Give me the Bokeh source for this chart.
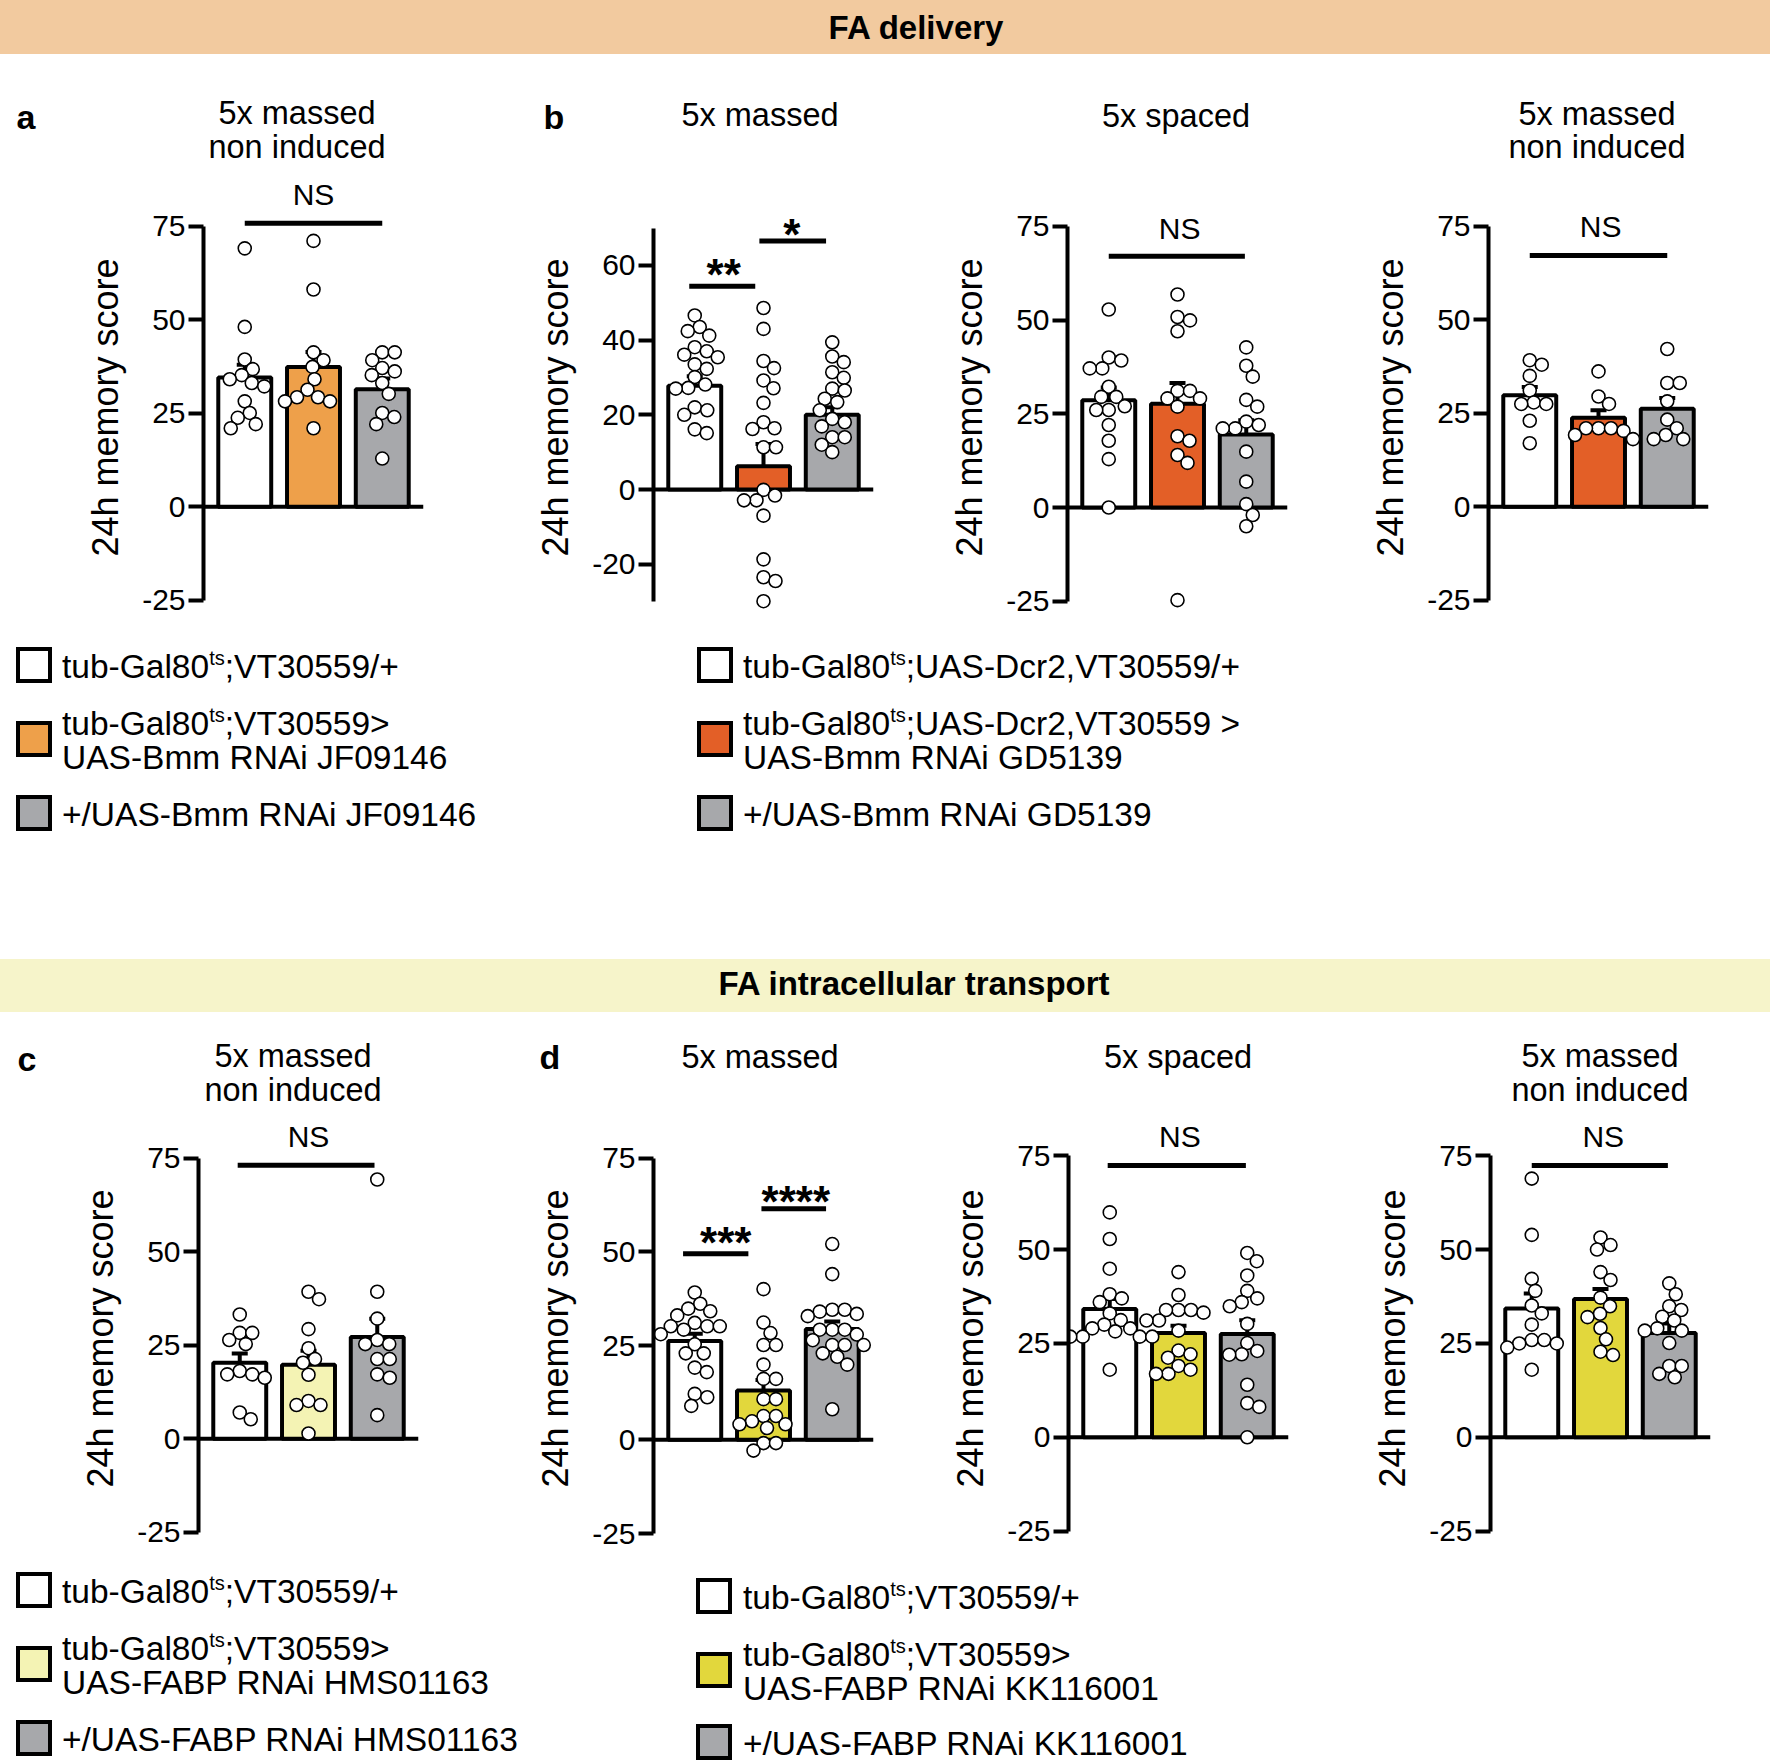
import html
from bokeh.plotting import figure
from bokeh.models import Span, FixedTicker, Div, PrintfTickFormatter
from bokeh.layouts import row, column
from bokeh.core.properties import value
from bokeh.embed import file_html
from bokeh.resources import INLINE

FONT = "Liberation Sans"

# ======================= data =======================
HEADER_1 = "FA delivery"
HEADER_2 = "FA intracellular transport"
Y_LABEL = "24h memory score"

TITLES_1 = [["5x massed", "non induced"], ["5x massed"], ["5x spaced"], ["5x massed", "non induced"]]
TITLES_2 = [["5x massed", "non induced"], ["5x massed"], ["5x spaced"], ["5x massed", "non induced"]]
LETTERS_1 = ["a", "b"]
LETTERS_2 = ["c", "d"]

TICKS_75 = [-25, 0, 25, 50, 75]
TICKS_60 = [-20, 0, 20, 40, 60]

# panel a : 5x massed non induced (Bmm JF09146)
A_MEAN = [34.6, 37.4, 31.4]
A_SEM = [3.4, 4.0, 2.9]
A_W = [69.1, 48.1, 39.4, 36.8, 35.2, 34.1, 33.1, 32.2, 28.2, 25.1, 23.8, 22.1, 21.0]
A_O = [71.1, 58.1, 41.3, 39.2, 37.4, 34.1, 31.3, 29.3, 29.3, 28.2, 28.2, 21.0]
A_G = [41.3, 41.3, 39.2, 37.1, 36.2, 35.2, 33.1, 30.2, 25.1, 24.0, 22.1, 12.9]

# panel b : 5x massed (Bmm GD5139)
B1_MEAN = [27.8, 6.2, 20.0]
B1_SEM = [2.5, 6.0, 2.0]
B1_W = [46.6, 43.5, 42.4, 41.2, 38.1, 37.0, 36.1, 35.4, 33.5, 32.3, 30.1, 28.1, 27.2, 27.0,
        22.0, 21.2, 20.0, 16.1, 15.1]
B1_O = [48.6, 43.0, 34.4, 32.5, 29.2, 27.1, 23.2, 18.0, 16.4, 16.2, 11.3, 11.3, -0.1, -1.6,
        -2.9, -2.9, -7.0, -18.7, -23.5, -24.5, -29.9]
B1_G = [39.4, 35.6, 34.1, 31.4, 29.9, 27.0, 26.5, 24.3, 23.4, 21.2, 18.9, 18.0, 16.9, 14.0,
        14.0, 12.0, 10.0]

# panel b : 5x spaced
B2_MEAN = [28.6, 27.7, 19.5]
B2_SEM = [3.4, 5.5, 3.8]
B2_W = [52.8, 40.0, 39.2, 37.1, 37.1, 32.2, 29.5, 29.5, 27.0, 26.0, 26.0, 22.0, 17.8, 12.9, 0.0]
B2_O = [56.8, 50.8, 49.9, 47.0, 31.1, 31.1, 29.1, 29.1, 26.9, 19.0, 17.8, 14.0, 11.9, -24.7]
B2_G = [42.7, 37.8, 34.9, 28.7, 26.9, 22.9, 22.0, 21.1, 21.1, 14.9, 6.9, 0.9, -2.0, -5.0]

# panel b : 5x massed non induced
B3_MEAN = [29.8, 23.8, 26.2]
B3_SEM = [2.2, 2.0, 2.9]
B3_W = [39.2, 38.0, 35.0, 31.1, 27.9, 27.5, 27.5, 23.0, 17.0]
B3_O = [36.2, 29.5, 27.5, 21.0, 21.0, 21.0, 20.3, 19.2, 18.1]
B3_G = [42.2, 33.1, 33.1, 28.2, 23.3, 21.0, 19.2, 18.1, 18.1]

# panel c : 5x massed non induced (FABP HMS01163)
C_MEAN = [20.3, 19.8, 27.2]
C_SEM = [2.5, 3.7, 4.9]
C_W = [33.2, 28.3, 28.3, 26.4, 25.3, 18.1, 17.2, 17.2, 16.3, 7.0, 5.2]
C_Y = [39.3, 37.3, 29.3, 24.2, 21.3, 20.3, 17.1, 10.1, 9.0, 9.0, 1.4]
C_G = [69.3, 39.3, 32.1, 26.4, 25.3, 25.3, 21.3, 21.3, 17.2, 16.3, 6.3]

# panel d : 5x massed (FABP KK116001)
D1_MEAN = [26.3, 13.1, 29.5]
D1_SEM = [1.9, 2.8, 2.0]
D1_W = [39.2, 36.2, 34.9, 34.2, 33.1, 31.1, 30.2, 30.2, 30.2, 29.3, 28.1, 25.4, 23.0, 23.0,
        19.2, 18.0, 12.2, 11.3, 9.0]
D1_Y = [40.1, 31.2, 28.4, 25.2, 25.2, 20.0, 16.2, 16.2, 10.8, 10.8, 6.3, 6.3, 4.9, 4.1,
        4.1, 3.1, -0.9, -0.9, -2.9]
D1_G = [52.1, 44.1, 34.6, 34.6, 34.1, 33.5, 32.9, 29.3, 29.3, 29.3, 28.0, 26.5, 25.2, 25.2,
        25.2, 23.0, 22.1, 20.0, 8.1]

# panel d : 5x spaced
D2_MEAN = [34.2, 27.8, 27.5]
D2_SEM = [2.6, 1.9, 3.7]
D2_W = [59.9, 52.8, 44.9, 38.1, 37.0, 36.0, 33.0, 31.2, 30.0, 29.0, 29.0, 28.2, 26.8, 26.8,
        26.8, 26.8, 18.0]
D2_Y = [44.0, 37.9, 33.9, 33.9, 33.9, 33.2, 31.1, 31.1, 28.4, 23.1, 22.1, 21.2, 19.0, 18.0,
        16.9, 16.9]
D2_G = [49.1, 46.9, 43.1, 39.0, 37.0, 36.0, 34.9, 30.2, 25.1, 23.0, 22.1, 22.0, 14.0, 9.1, 8.1, 0.0]

# panel d : 5x massed non induced
D3_MEAN = [34.3, 36.8, 27.8]
D3_SEM = [4.0, 2.7, 2.5]
D3_W = [68.9, 53.9, 42.2, 39.0, 35.1, 33.0, 30.0, 25.9, 25.9, 25.0, 25.0, 23.9, 18.0]
D3_Y = [53.2, 51.2, 50.0, 44.0, 41.9, 37.2, 34.9, 32.9, 32.0, 29.1, 26.1, 22.8, 21.9]
D3_G = [41.0, 38.1, 34.9, 33.9, 32.1, 31.1, 29.0, 28.4, 28.4, 25.1, 19.0, 19.0, 16.9, 16.0]

# significance marks: (x0, x1, y) lines and (x, y, label) texts, in data units
SIG_A = dict(lines=[(0.0, 2.0, 75.8)], texts=[(1.0, 83.6, "NS")])
SIG_B1 = dict(lines=[(-0.08, 0.88, 54.4), (0.94, 1.91, 66.5)], texts=[(0.42, 60.0, "**"), (1.41, 70.7, "*")])
SIG_B2 = dict(lines=[(0.0, 1.98, 67.0)], texts=[(1.03, 74.5, "NS")])
SIG_B3 = dict(lines=[(0.0, 2.0, 67.2)], texts=[(1.03, 74.9, "NS")])
SIG_C = dict(lines=[(-0.03, 1.96, 73.1)], texts=[(1.0, 80.8, "NS")])
SIG_D1 = dict(lines=[(-0.17, 0.78, 49.5), (0.97, 1.91, 61.5)], texts=[(0.45, 54.9, "***"), (1.47, 65.8, "****")])
SIG_D2 = dict(lines=[(-0.03, 1.98, 72.4)], texts=[(1.02, 80.0, "NS")])
SIG_D3 = dict(lines=[(0.0, 1.98, 72.4)], texts=[(1.04, 80.0, "NS")])

# legends
LEG_A = [["tub-Gal80^ts;VT30559/+"], ["tub-Gal80^ts;VT30559>", "UAS-Bmm RNAi JF09146"], ["+/UAS-Bmm RNAi JF09146"]]
LEG_B = [["tub-Gal80^ts;UAS-Dcr2,VT30559/+"], ["tub-Gal80^ts;UAS-Dcr2,VT30559 >", "UAS-Bmm RNAi GD5139"],
         ["+/UAS-Bmm RNAi GD5139"]]
LEG_C = [["tub-Gal80^ts;VT30559/+"], ["tub-Gal80^ts;VT30559>", "UAS-FABP RNAi HMS01163"], ["+/UAS-FABP RNAi HMS01163"]]
LEG_D = [["tub-Gal80^ts;VT30559/+"], ["tub-Gal80^ts;VT30559>", "UAS-FABP RNAi KK116001"], ["+/UAS-FABP RNAi KK116001"]]

# colours
HEAD1_BG = "#F2CA9F"
HEAD2_BG = "#F6F4CA"
COL_A = ["#FFFFFF", "#EEA04A", "#A7A8AB"]
COL_B = ["#FFFFFF", "#E35F27", "#A7A8AB"]
COL_C = ["#FFFFFF", "#F4F3B4", "#A7A8AB"]
COL_D = ["#FFFFFF", "#E2D73C", "#A7A8AB"]

# ======================= layout geometry (page pixels) =======================
PAGE_W = 1770
FRAME_W = 220
X_RANGE = (-0.6, 2.6)
BAR_W = 0.77
CAP_HALF_PX = 8
DOT = 13
COLS = [0, 480, 920, 1340, 1770]
ROW1 = (167, 642)
ROW2 = (1112, 1560)
FRAME1 = (176, 638)
FRAME2 = (1122, 1554)
TITLE_PX = 32.5
TITLE_PITCH = 33.5
LEG_PX = 33.5
LEG_LH = 34

GEO_1 = [
    dict(ax=203, y0=506.3, ppu=3.74, bounds=(-25, 75), ticks=TICKS_75),
    dict(ax=653, y0=489.0, ppu=3.735, bounds=(-30, 70), ticks=TICKS_60),
    dict(ax=1067, y0=507.0, ppu=3.75, bounds=(-25, 75), ticks=TICKS_75),
    dict(ax=1488, y0=506.3, ppu=3.74, bounds=(-25, 75), ticks=TICKS_75),
]
GEO_2 = [
    dict(ax=198, y0=1438.2, ppu=3.74, bounds=(-25, 75), ticks=TICKS_75),
    dict(ax=653, y0=1439.2, ppu=3.755, bounds=(-25, 75), ticks=TICKS_75),
    dict(ax=1068, y0=1436.8, ppu=3.755, bounds=(-25, 75), ticks=TICKS_75),
    dict(ax=1490, y0=1436.8, ppu=3.755, bounds=(-25, 75), ticks=TICKS_75),
]


def swarm(vals, ppu, pitch, diam=DOT):
    """Beeswarm offsets (in bar units) so that circles do not overlap."""
    placed = []
    out = [0.0] * len(vals)
    order = sorted(range(len(vals)), key=lambda i: -vals[i])
    for i in order:
        y = vals[i] * ppu
        best = None
        k = 0
        while best is None:
            cands = [0.0] if k == 0 else [k * 0.5, -k * 0.5]
            for dx in cands:
                if all((dx - px) ** 2 + (y - py) ** 2 >= (diam - 0.5) ** 2 for px, py in placed):
                    best = dx
                    break
            k += 1
        placed.append((best, y))
        out[i] = best / pitch
    return out


def make_panel(geo, fig_left, fig_right, row_rng, frame, means, sems, pts, colors, sig):
    width = fig_right - fig_left
    height = row_rng[1] - row_rng[0]
    bl = geo["ax"] - fig_left
    br = width - bl - FRAME_W
    bt = frame[0] - row_rng[0]
    bb = height - (frame[1] - frame[0]) - bt
    y0, ppu = geo["y0"], geo["ppu"]
    y_rng = ((y0 - frame[1]) / ppu, (y0 - frame[0]) / ppu)
    p = figure(width=width, height=height, x_range=X_RANGE, y_range=y_rng, title=None,
               output_backend="svg", toolbar_location=None, x_axis_location=None,
               min_border_left=bl, min_border_right=br, min_border_top=bt, min_border_bottom=bb)
    p.outline_line_color = None
    p.grid.visible = False
    ax = p.yaxis[0]
    ax.bounds = geo["bounds"]
    ax.ticker = FixedTicker(ticks=geo["ticks"])
    ax.formatter = PrintfTickFormatter(format="%d")
    ax.axis_line_width = 4
    ax.axis_line_color = "black"
    ax.major_tick_line_width = 4
    ax.major_tick_line_color = "black"
    ax.major_tick_out = 15
    ax.major_tick_in = 0
    ax.minor_tick_line_color = None
    ax.major_label_text_font = FONT
    ax.major_label_text_font_size = "30px"
    ax.major_label_text_color = "black"
    ax.major_label_standoff = 3
    ax.axis_label = Y_LABEL
    ax.axis_label_text_font = FONT
    ax.axis_label_text_font_size = "36px"
    ax.axis_label_text_font_style = "normal"
    ax.axis_label_text_color = "black"
    ax.axis_label_standoff = 13

    pitch = FRAME_W / (X_RANGE[1] - X_RANGE[0])
    xs = [0, 1, 2]
    p.add_layout(Span(location=0, dimension="width", line_color="black", line_width=4, level="underlay"))
    p.vbar(x=xs, top=means, bottom=0, width=BAR_W, fill_color=colors, line_color="black", line_width=4)
    tops = [m + s for m, s in zip(means, sems)]
    cw = CAP_HALF_PX / pitch
    p.segment(x0=xs, y0=means, x1=xs, y1=tops, line_color="black", line_width=4)
    p.segment(x0=[x - cw for x in xs], y0=tops, x1=[x + cw for x in xs], y1=tops,
              line_color="black", line_width=4)
    for i, vals in enumerate(pts):
        offs = swarm(vals, ppu, pitch)
        p.scatter(x=[i + o for o in offs], y=vals, size=DOT, marker="circle",
                  fill_color="white", line_color="black", line_width=1.6)
    for (x0, x1, yv) in sig["lines"]:
        p.segment(x0=[x0], y0=[yv], x1=[x1], y1=[yv], line_color="black", line_width=5)
    for (x, yv, t) in sig["texts"]:
        star = t.startswith("*")
        p.text(x=[x], y=[yv], text=[t], text_font=value(FONT),
               text_font_size="44px" if star else "30px",
               text_font_style="bold" if star else "normal",
               text_align="center", text_baseline="middle",
               y_offset=9 if star else 0, text_color="black")
    return p


def fmt(label):
    return html.escape(label).replace("^ts", '<sup style="font-size:0.6em;line-height:0;">ts</sup>')


def abs_text(x, y, inner, size, bold=False, lh=None, center_x=True):
    lh = lh if lh is not None else round(size * 1.15)
    tr = "translate(-50%,-50%)" if center_x else "translateY(-50%)"
    return (f'<div style="position:absolute;left:{x}px;top:{y}px;transform:{tr};'
            f'font-family:\'{FONT}\',Arial,sans-serif;font-size:{size}px;'
            f'font-weight:{"bold" if bold else "normal"};line-height:{lh}px;white-space:nowrap;'
            f'text-align:{"center" if center_x else "left"};color:#000;">{inner}</div>')


def box_div(inner, w, h, bg="transparent"):
    return Div(text=f'<div style="position:relative;width:{w}px;height:{h}px;background:{bg};'
                    f'overflow:hidden;">{inner}</div>', width=w, height=h, margin=0,
               styles={"overflow": "hidden"})


def header(text, page_top, h, text_y, text_x, bg):
    inner = abs_text(text_x, text_y - page_top, html.escape(text), 33, bold=True)
    return box_div(inner, PAGE_W, h, bg)


def titles_div(page_top, h, letters, letter_pos, titles, title_pos):
    inner = ""
    for lt, (x, y) in zip(letters, letter_pos):
        inner += abs_text(x, y - page_top, lt, 34, bold=True)
    for tt, (x, y) in zip(titles, title_pos):
        n = len(tt)
        for k, line in enumerate(tt):
            ly = y + (k - (n - 1) / 2) * TITLE_PITCH
            inner += abs_text(x, ly - page_top, html.escape(line), TITLE_PX, lh=TITLE_PITCH - 1)
    return box_div(inner, PAGE_W, h)


def legend_html(page_top, box_x, text_x, centers, labels, colors):
    out = ""
    for cy, lab, col in zip(centers, labels, colors):
        out += (f'<div style="position:absolute;left:{box_x}px;top:{cy - 18 - page_top}px;width:36px;'
                f'height:36px;box-sizing:border-box;border:4px solid #000;background:{col};"></div>')
        n = len(lab)
        for k, line in enumerate(lab):
            ly = cy + 1 + (k - (n - 1) / 2) * LEG_LH
            out += abs_text(text_x, ly - page_top, fmt(line), LEG_PX, lh=LEG_LH - 1, center_x=False)
    return out


# ------------------------------- build page -------------------------------
head1 = header(HEADER_1, 0, 54, 28, 916, HEAD1_BG)
tit1 = titles_div(54, ROW1[0] - 54, LETTERS_1, [(26, 117), (554, 117)], TITLES_1,
                  [(297, 130), (760, 115), (1176, 116), (1597, 130.5)])
figs1 = [
    make_panel(GEO_1[0], COLS[0], COLS[1], ROW1, FRAME1, A_MEAN, A_SEM, [A_W, A_O, A_G], COL_A, SIG_A),
    make_panel(GEO_1[1], COLS[1], COLS[2], ROW1, FRAME1, B1_MEAN, B1_SEM, [B1_W, B1_O, B1_G], COL_B, SIG_B1),
    make_panel(GEO_1[2], COLS[2], COLS[3], ROW1, FRAME1, B2_MEAN, B2_SEM, [B2_W, B2_O, B2_G], COL_B, SIG_B2),
    make_panel(GEO_1[3], COLS[3], COLS[4], ROW1, FRAME1, B3_MEAN, B3_SEM, [B3_W, B3_O, B3_G], COL_B, SIG_B3),
]
leg1 = box_div(legend_html(ROW1[1], 16, 62, [665, 738.5, 812.5], LEG_A, COL_A)
               + legend_html(ROW1[1], 697, 743, [665, 738.5, 812.5], LEG_B, COL_B), PAGE_W, 959 - ROW1[1])
head2 = header(HEADER_2, 959, 53, 984, 914, HEAD2_BG)
tit2 = titles_div(1012, ROW2[0] - 1012, LETTERS_2, [(27, 1059), (550, 1057)], TITLES_2,
                  [(293, 1073), (760, 1057), (1178, 1057), (1600, 1073)])
figs2 = [
    make_panel(GEO_2[0], COLS[0], COLS[1], ROW2, FRAME2, C_MEAN, C_SEM, [C_W, C_Y, C_G], COL_C, SIG_C),
    make_panel(GEO_2[1], COLS[1], COLS[2], ROW2, FRAME2, D1_MEAN, D1_SEM, [D1_W, D1_Y, D1_G], COL_D, SIG_D1),
    make_panel(GEO_2[2], COLS[2], COLS[3], ROW2, FRAME2, D2_MEAN, D2_SEM, [D2_W, D2_Y, D2_G], COL_D, SIG_D2),
    make_panel(GEO_2[3], COLS[3], COLS[4], ROW2, FRAME2, D3_MEAN, D3_SEM, [D3_W, D3_Y, D3_G], COL_D, SIG_D3),
]
leg2 = box_div(legend_html(ROW2[1], 16, 62, [1590, 1664, 1738], LEG_C, COL_C)
               + legend_html(ROW2[1], 696, 743, [1596, 1670, 1742], LEG_D, COL_D), PAGE_W, 1762 - ROW2[1])

page = column(head1, tit1, row(*figs1, spacing=0), leg1, head2, tit2, row(*figs2, spacing=0), leg2,
              spacing=0)

with open("out.html", "w") as f:
    f.write(file_html(page, INLINE, title="FA delivery / FA intracellular transport"))
